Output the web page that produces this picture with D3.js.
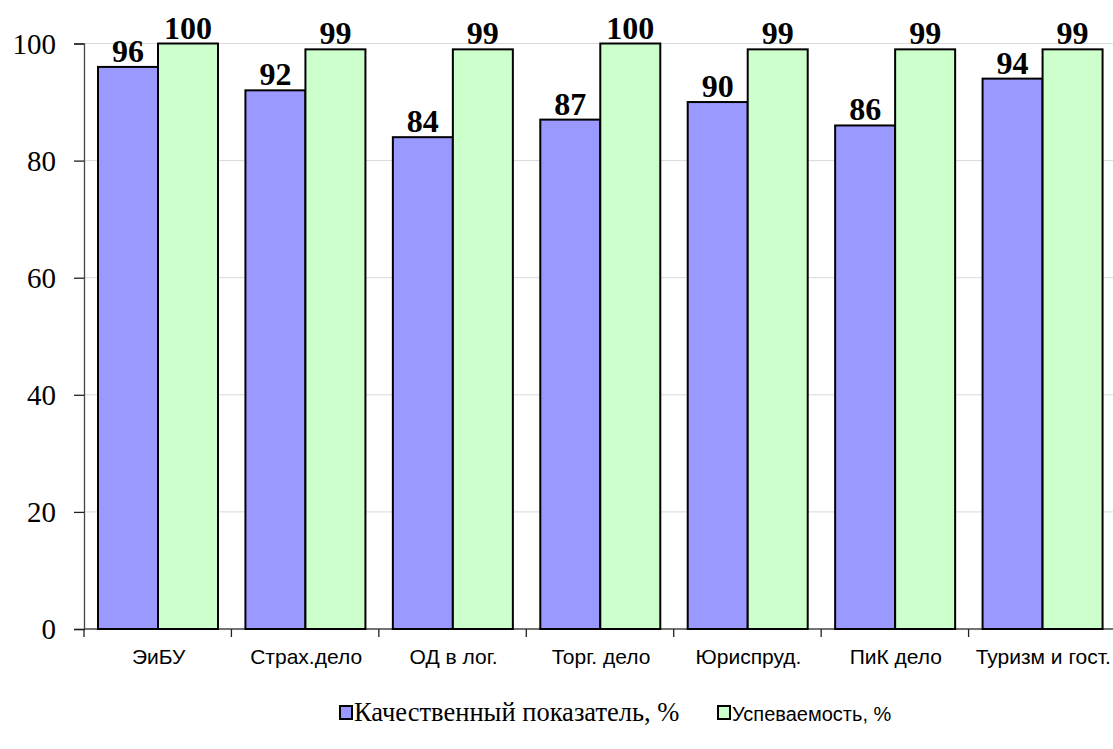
<!DOCTYPE html>
<html>
<head>
<meta charset="utf-8">
<script src="https://cdn.jsdelivr.net/npm/d3@7"></script>
<style>
  body { margin: 0; background: #fff; }
</style>
</head>
<body>
<div id="chart"></div>
<script>
// данные
const categories = ['ЭиБУ', 'Страх.дело', 'ОД в лог.', 'Торг. дело', 'Юриспруд.', 'ПиК дело', 'Туризм и гост.'];
const seriesNames = ['Качественный показатель, %', 'Успеваемость, %'];
const quality = [96, 92, 84, 87, 90, 86, 94];
const progress = [100, 99, 99, 100, 99, 99, 99];
const yTicks = [0, 20, 40, 60, 80, 100];

const width = 1113, height = 749;
const mLeft = 84, mRight = 1116, mTop = 43.5, mBottom = 629;
const colors = ['#9999ff', '#ccffcc'];
const serif = '"Liberation Serif", "Times New Roman", serif';
const sans = '"Liberation Sans", Arial, sans-serif';

const svg = d3.select('#chart').append('svg')
  .attr('width', width)
  .attr('height', height);

const x0 = d3.scaleBand().domain(categories).range([mLeft, mRight]);
const x1 = d3.scaleBand().domain([0, 1]).range([14, 134]);
const y = d3.scaleLinear().domain([0, 100]).range([mBottom, mTop]);

// сетка
svg.append('g')
  .selectAll('line')
  .data(yTicks.filter(d => d > 0))
  .enter().append('line')
  .attr('x1', mLeft).attr('x2', width)
  .attr('y1', d => y(d)).attr('y2', d => y(d))
  .attr('stroke', '#d9d9d9')
  .attr('stroke-width', 1);

// ось Y
const yAxis = svg.append('g')
  .attr('transform', `translate(${mLeft},0)`)
  .call(d3.axisLeft(y).tickValues(yTicks).tickSize(10).tickPadding(18));
yAxis.select('.domain').attr('stroke', '#444').attr('stroke-width', 1.3);
yAxis.selectAll('.tick line').attr('stroke', '#222').attr('stroke-width', 1.3);
yAxis.selectAll('text')
  .style('font-family', serif)
  .style('font-size', '29px')
  .attr('fill', '#000')
  .attr('dy', '0.33em');

// ось X
const xAxis = svg.append('g')
  .attr('transform', `translate(0,${mBottom})`);
xAxis.append('line')
  .attr('x1', mLeft).attr('x2', width)
  .attr('stroke', '#444').attr('stroke-width', 1.3);
xAxis.selectAll('.xt')
  .data(categories)
  .enter().append('line')
  .attr('class', 'xt')
  .attr('x1', d => x0(d)).attr('x2', d => x0(d))
  .attr('y1', 0).attr('y2', 8)
  .attr('stroke', '#222').attr('stroke-width', 1.3);
xAxis.selectAll('text')
  .data(categories)
  .enter().append('text')
  .attr('x', d => x0(d) + x0.bandwidth() / 2 + 1)
  .attr('y', 35)
  .attr('text-anchor', 'middle')
  .style('font-family', sans)
  .style('font-size', '21px')
  .text(d => d);

// столбцы
const flat = categories.flatMap((c, i) => [
  { cat: c, s: 0, v: quality[i] },
  { cat: c, s: 1, v: progress[i] }
]);

svg.append('g')
  .selectAll('rect')
  .data(flat)
  .enter().append('rect')
  .attr('x', d => x0(d.cat) + x1(d.s))
  .attr('y', d => y(d.v))
  .attr('width', x1.bandwidth())
  .attr('height', d => y(0) - y(d.v))
  .attr('fill', d => colors[d.s])
  .attr('stroke', '#000')
  .attr('stroke-width', 2);

// подписи значений
svg.append('g')
  .selectAll('text')
  .data(flat)
  .enter().append('text')
  .attr('x', d => x0(d.cat) + x1(d.s) + x1.bandwidth() / 2)
  .attr('y', d => y(d.v) - 5)
  .attr('text-anchor', 'middle')
  .style('font-family', serif)
  .style('font-weight', 'bold')
  .style('font-size', '32px')
  .text(d => d.v);

// легенда
const legend = svg.append('g');
const legendItems = [
  { x: 340, name: seriesNames[0], font: serif, size: '26.5px' },
  { x: 718, name: seriesNames[1], font: sans, size: '20px' }
];
legendItems.forEach((it, i) => {
  legend.append('rect')
    .attr('x', it.x).attr('y', 706)
    .attr('width', 12).attr('height', 13)
    .attr('fill', colors[i])
    .attr('stroke', '#000')
    .attr('stroke-width', 2);
  legend.append('text')
    .attr('x', it.x + 14)
    .attr('y', 721)
    .style('font-family', it.font)
    .style('font-size', it.size)
    .text(it.name);
});
</script>
</body>
</html>
